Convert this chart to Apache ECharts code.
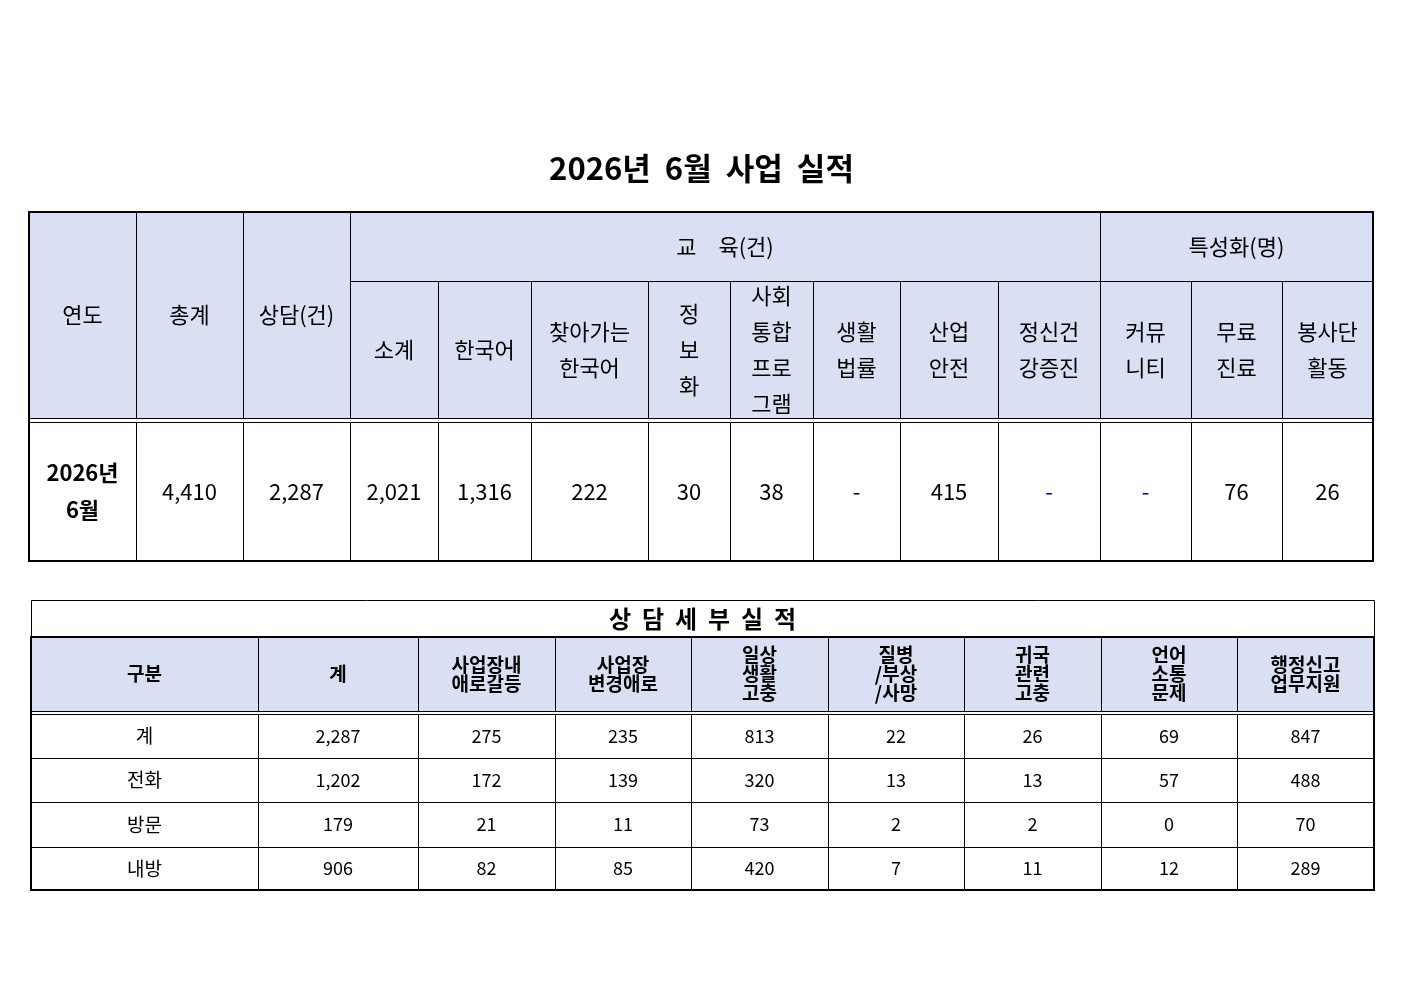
<!DOCTYPE html>
<html><head><meta charset="utf-8">
<script src="https://cdn.jsdelivr.net/npm/echarts@6/dist/echarts.min.js"></script>
<style>html,body{margin:0;padding:0;background:#fff}#c{width:1403px;height:992px}</style>
</head><body><div id="c"></div>
<script>
// ---- data ----
const title = "2026년  6월  사업  실적";
const t1TopHeaders = ["연도", "총계", "상담(건)"];
const t1GroupHeaders = ["교　육(건)", "특성화(명)"];
const t1SubHeaders = ["소계", "한국어", "찾아가는\n한국어", "정\n보\n화", "사회\n통합\n프로\n그램", "생활\n법률", "산업\n안전", "정신건\n강증진", "커뮤\n니티", "무료\n진료", "봉사단\n활동"];
const t1Row = ["2026년\n6월", "4,410", "2,287", "2,021", "1,316", "222", "30", "38", "-", "415", "-", "-", "76", "26"];
const t2Title = "상  담  세  부  실  적";
const t2Headers = ["구분", "계", "사업장내\n애로갈등", "사업장\n변경애로", "일상\n생활\n고충", "질병\n/부상\n/사망", "귀국\n관련\n고충", "언어\n소통\n문제", "행정신고\n업무지원"];
const t2Labels = ["계", "전화", "방문", "내방"];
const t2Total = [2287, 275, 235, 813, 22, 26, 69, 847];
const t2Phone = [1202, 172, 139, 320, 13, 13, 57, 488];
const t2Visit = [179, 21, 11, 73, 2, 2, 0, 70];
const t2Inbound = [906, 82, 85, 420, 7, 11, 12, 289];

// ---- layout ----
const HDR = '#d9e0f4';
const F = '"Noto Sans CJK KR", sans-serif';
const c1 = [29,136,243,350,438,531,648,730,813,900,998,1100,1191,1282,1373];
const r1 = [212,281,418,561];
const c2 = [31,258,418,555,691,828,964,1101,1237,1374];
const r2 = [600,637,711,758,802,847,890];
const cells = [];
const info = [];
function cell(x0,y0,x1,y1,text,o){cells.push([x0,y0,x1,y1]);info.push(Object.assign({text:String(text),fill:null,size:22,bold:false,color:'#000',lh:37},o||{}));}
function fmt(v){return v.toLocaleString('en-US');}

t1TopHeaders.forEach((t,i)=>cell(c1[i],r1[0],c1[i+1],r1[2],t,{fill:HDR}));
cell(c1[3],r1[0],c1[11],r1[1],t1GroupHeaders[0],{fill:HDR});
cell(c1[11],r1[0],c1[14],r1[1],t1GroupHeaders[1],{fill:HDR});
t1SubHeaders.forEach((t,i)=>cell(c1[i+3],r1[1],c1[i+4],r1[2],t,{fill:HDR,lh:36}));
t1Row.forEach((t,i)=>cell(c1[i],r1[2]+4,c1[i+1],r1[3],t,{bold:i===0,color:(i===10||i===11)?'#0000cc':'#000'}));

cell(c2[0],r2[0],c2[9],r2[1],t2Title,{size:24,bold:true});
t2Headers.forEach((t,i)=>cell(c2[i],r2[1],c2[i+1],r2[2],t,{fill:HDR,size:19,bold:true,lh:19}));
[t2Total,t2Phone,t2Visit,t2Inbound].forEach((row,ri)=>{
  const y0 = ri===0 ? r2[2]+3 : r2[ri+2];
  cell(c2[0],y0,c2[1],r2[ri+3],t2Labels[ri],{size:19});
  row.forEach((v,i)=>cell(c2[i+1],y0,c2[i+2],r2[ri+3],fmt(v),{size:18}));
});
const frames = [[c1[0],r1[0],c1[14],r1[3]],[c2[0],r2[1],c2[9],r2[6]]];

const chart = echarts.init(document.getElementById('c'));
chart.setOption({
  animation:false,
  title:{text:title,left:'center',top:148,textStyle:{fontFamily:F,fontSize:31,fontWeight:'bold',color:'#000'}},
  grid:{left:0,right:0,top:0,bottom:0},
  xAxis:{type:'value',min:0,max:1403,show:false},
  yAxis:{type:'value',min:0,max:992,inverse:true,show:false},
  series:[{
    type:'custom',coordinateSystem:'cartesian2d',data:cells,
    renderItem:(p,api)=>{
      const inf=info[p.dataIndex];
      const a=api.coord([api.value(0),api.value(1)]),b=api.coord([api.value(2),api.value(3)]);
      return {type:'group',children:[
        {type:'rect',shape:{x:Math.round(a[0])+0.5,y:Math.round(a[1])+0.5,width:Math.round(b[0]-a[0]),height:Math.round(b[1]-a[1])},style:{fill:inf.fill||'#fff',stroke:'#000',lineWidth:1}},
        {type:'text',x:(a[0]+b[0])/2,y:(a[1]+b[1])/2,style:{text:inf.text,align:'center',verticalAlign:'middle',fill:inf.color,font:(inf.bold?'bold ':'')+inf.size+'px '+F,lineHeight:inf.lh}}
      ]};
    }
  },{
    type:'custom',coordinateSystem:'cartesian2d',data:frames,z:6,
    renderItem:(p,api)=>{const a=api.coord([api.value(0),api.value(1)]),b=api.coord([api.value(2),api.value(3)]);
      return {type:'rect',shape:{x:a[0],y:a[1],width:b[0]-a[0],height:b[1]-a[1]},style:{fill:'none',stroke:'#000',lineWidth:2}};}
  }]
});
</script></body></html>
